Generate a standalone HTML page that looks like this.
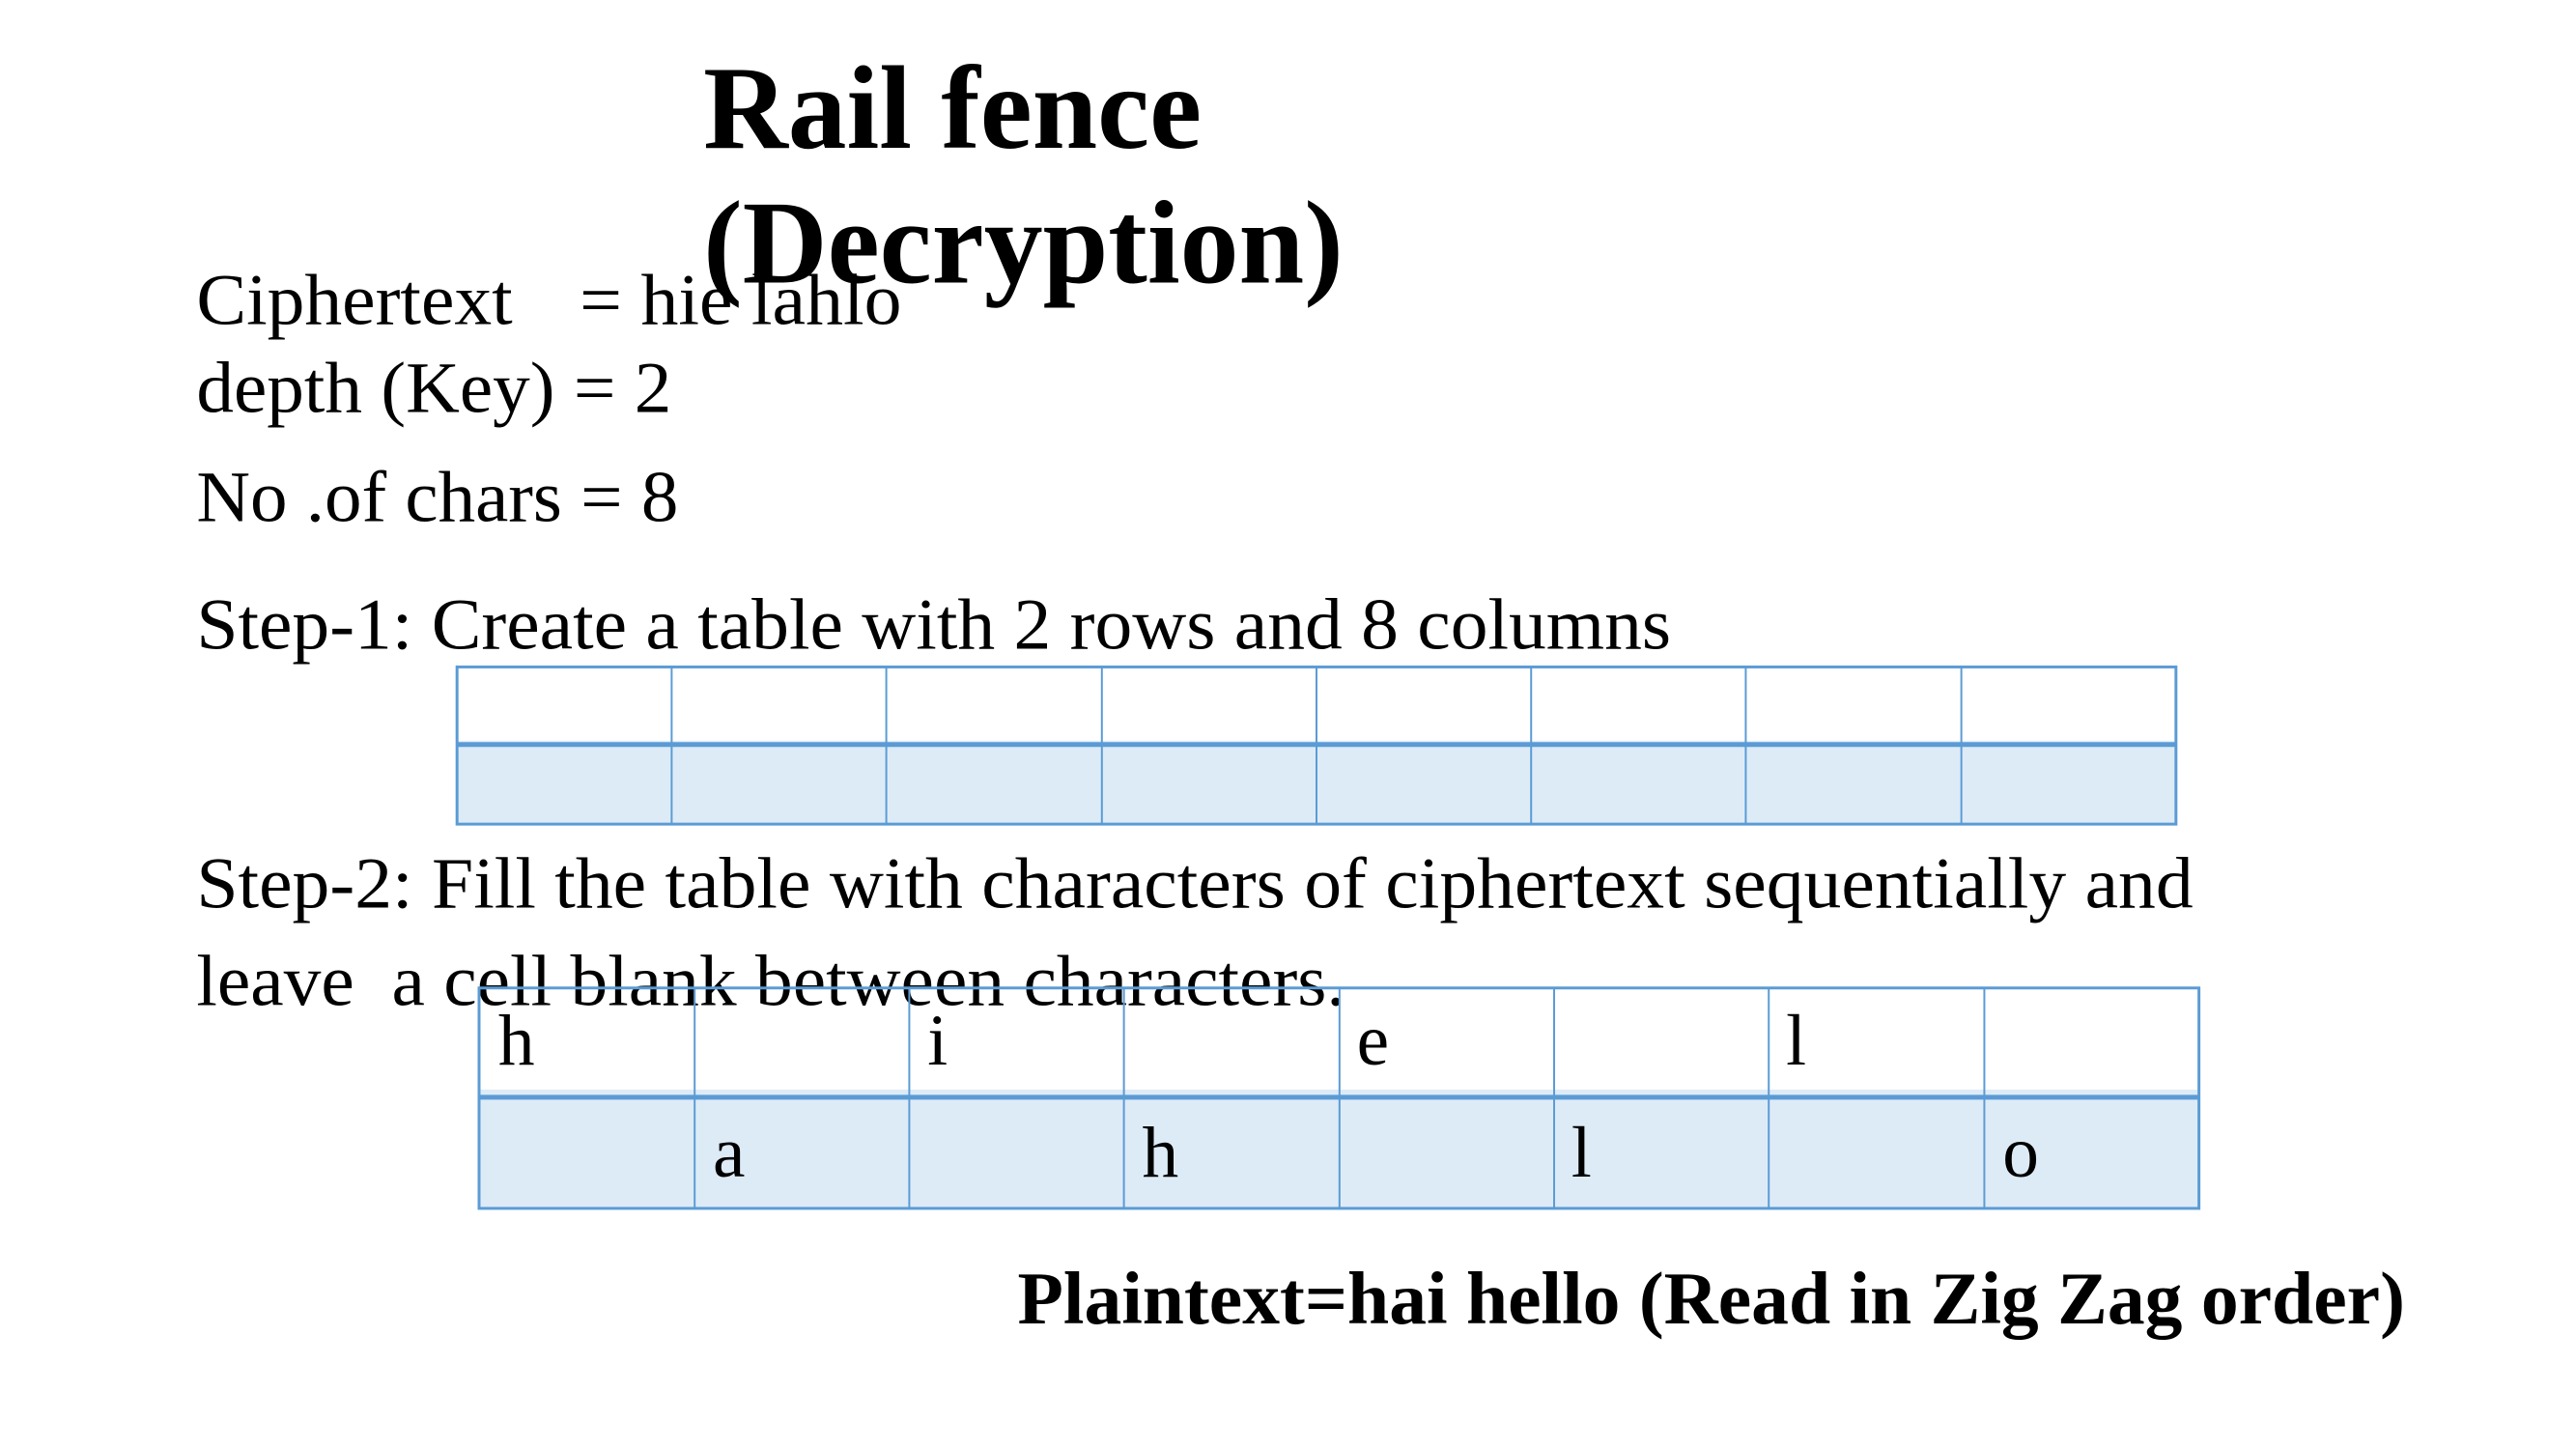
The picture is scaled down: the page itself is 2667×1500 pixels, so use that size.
<!DOCTYPE html>
<html><head><meta charset="utf-8"><style>
html,body{margin:0;padding:0;background:#fff;}
svg{display:block;}
text{font-family:"Liberation Serif",serif;fill:#000;}
</style></head><body>
<svg width="2667" height="1500" viewBox="0 0 2667 1500" xmlns="http://www.w3.org/2000/svg">
<rect width="2667" height="1500" fill="#fff"/>
<g transform="scale(0.992)">
<g font-size="76">
<text x="205" y="338" textLength="330" lengthAdjust="spacingAndGlyphs">Ciphertext</text>
<text x="605" y="338" textLength="336" lengthAdjust="spacingAndGlyphs">= hie lahlo</text>
<text x="205" y="430" textLength="496" lengthAdjust="spacingAndGlyphs">depth (Key) = 2</text>
<text x="205" y="544" textLength="503" lengthAdjust="spacingAndGlyphs">No .of chars = 8</text>
<text x="205" y="677" textLength="1539" lengthAdjust="spacingAndGlyphs">Step-1: Create a table with 2 rows and 8 columns</text>
<text x="205" y="947" textLength="2084" lengthAdjust="spacingAndGlyphs">Step-2: Fill the table with characters of ciphertext sequentially and</text>
<text x="205" y="1049" textLength="1199" lengthAdjust="spacingAndGlyphs" xml:space="preserve">leave  a cell blank between characters.</text>
</g>
<g font-size="124" font-weight="bold">
<text x="734" y="154" textLength="520" lengthAdjust="spacingAndGlyphs">Rail fence</text>
<text x="734" y="295" textLength="668" lengthAdjust="spacingAndGlyphs">(Decryption)</text>
</g>
<g transform="translate(0,2)">
<g stroke="#5b9bd5" fill="none">
<rect x="477" y="771" width="1794" height="87" fill="#ddebf7" stroke="none"/>
<g stroke-width="2">
<line x1="701" y1="694" x2="701" y2="858"/><line x1="925" y1="694" x2="925" y2="858"/>
<line x1="1150" y1="694" x2="1150" y2="858"/><line x1="1374" y1="694" x2="1374" y2="858"/>
<line x1="1598" y1="694" x2="1598" y2="858"/><line x1="1822" y1="694" x2="1822" y2="858"/>
<line x1="2047" y1="694" x2="2047" y2="858"/>
</g>
<line x1="477" y1="775" x2="2271" y2="775" stroke-width="5"/>
<rect x="477" y="694" width="1794" height="164" stroke-width="3"/>
</g>
</g>
<g stroke="#5b9bd5" fill="none">
<rect x="500" y="1137" width="1795" height="124" fill="#ddebf7" stroke="none"/>
<g stroke-width="2">
<line x1="725" y1="1031" x2="725" y2="1261"/><line x1="949" y1="1031" x2="949" y2="1261"/>
<line x1="1173" y1="1031" x2="1173" y2="1261"/><line x1="1398" y1="1031" x2="1398" y2="1261"/>
<line x1="1622" y1="1031" x2="1622" y2="1261"/><line x1="1846" y1="1031" x2="1846" y2="1261"/>
<line x1="2071" y1="1031" x2="2071" y2="1261"/>
</g>
<line x1="500" y1="1145" x2="2295" y2="1145" stroke-width="5"/>
<rect x="500" y="1031" width="1795" height="230" stroke-width="3"/>
</g>
<g font-size="76">
<text x="520" y="1111">h</text>
<text x="968" y="1111">i</text>
<text x="1416" y="1111">e</text>
<text x="1864" y="1111">l</text>
<text x="744" y="1228">a</text>
<text x="1192" y="1228">h</text>
<text x="1640" y="1228">l</text>
<text x="2090" y="1228">o</text>
</g>
<text x="1062" y="1381" font-size="78" font-weight="bold" textLength="1448" lengthAdjust="spacingAndGlyphs">Plaintext=hai hello (Read in Zig Zag order)</text>
</g>
</svg>
</body></html>
